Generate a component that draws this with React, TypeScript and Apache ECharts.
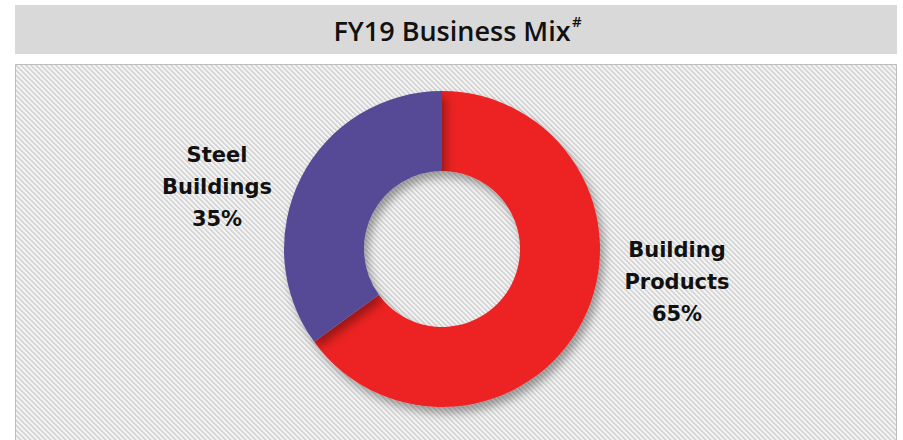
import React, { useEffect, useRef } from "react";
import * as echarts from "echarts";

const categories = ["Building Products", "Steel Buildings"];
const values = [65, 35];
const colors = ["#ed2224", "#574a96"];
const labelLines = [
  ["Building", "Products", "65%"],
  ["Steel", "Buildings", "35%"],
];
const titleText = "FY19 Business Mix";

function makeStripe(): HTMLCanvasElement {
  const c = document.createElement("canvas");
  c.width = 5;
  c.height = 5;
  const ctx = c.getContext("2d")!;
  ctx.fillStyle = "#f5f5f5";
  ctx.fillRect(0, 0, 5, 5);
  ctx.fillStyle = "#d6d6d6";
  for (let i = 0; i < 5; i++) {
    ctx.fillRect(i, i, 1, 1);
    ctx.fillRect((i + 1) % 5, i, 1, 1);
  }
  ctx.fillStyle = "#e4e4e4";
  for (let i = 0; i < 5; i++) {
    ctx.fillRect((i + 2) % 5, i, 1, 1);
  }
  return c;
}

export default function App() {
  const ref = useRef<HTMLDivElement>(null);
  useEffect(() => {
    if (!ref.current) return;
    const chart = echarts.init(ref.current, undefined, { renderer: "svg" });
    const stripe = makeStripe();
    const stripeUrl = stripe.toDataURL();
    const labelFont = '"DejaVu Sans", sans-serif';
    chart.setOption({
      animation: false,
      backgroundColor: "#ffffff",
      graphic: [
        {
          type: "rect",
          z: -10,
          shape: { x: 15, y: 5, width: 882, height: 49 },
          style: { fill: "#d9d9d9" },
          silent: true,
        },
        {
          type: "rect",
          z: -10,
          shape: { x: 15.5, y: 64.5, width: 881, height: 400 },
          style: {
            fill: { image: stripeUrl, repeat: "repeat" } as any,
            stroke: "#bdbdbd",
            lineWidth: 1,
          },
          silent: true,
        },
        {
          type: "text",
          x: 452,
          y: 30,
          style: {
            text: titleText,
            font: '600 27px "Open Sans", sans-serif',
            fill: "#111111",
            align: "center",
            verticalAlign: "middle",
          },
        },
        {
          type: "text",
          x: 572,
          y: 21,
          style: {
            text: "#",
            font: '600 15px "Open Sans", sans-serif',
            fill: "#111111",
            align: "left",
            verticalAlign: "middle",
          },
        },
        {
          type: "text",
          x: 677,
          y: 282,
          z: 10,
          style: {
            text: labelLines[0].join("\n"),
            font: `bold 21px ${labelFont}`,
            lineHeight: 32,
            fill: "#111111",
            align: "center",
            verticalAlign: "middle",
          },
        },
        {
          type: "text",
          x: 217,
          y: 187,
          z: 10,
          style: {
            text: labelLines[1].join("\n"),
            font: `bold 21px ${labelFont}`,
            lineHeight: 32,
            fill: "#111111",
            align: "center",
            verticalAlign: "middle",
          },
        },
      ],
      series: [
        {
          type: "pie",
          center: [442, 249],
          radius: [78, 158],
          startAngle: 90,
          clockwise: true,
          silent: true,
          label: { show: false },
          labelLine: { show: false },
          itemStyle: {
            shadowBlur: 10,
            shadowOffsetX: 4,
            shadowOffsetY: 6,
            shadowColor: "rgba(0,0,0,0.35)",
          },
          data: categories.map((name, i) => ({
            name,
            value: values[i],
            itemStyle: { color: colors[i] },
          })),
        },
      ],
    });
    return () => chart.dispose();
  }, []);
  return <div ref={ref} style={{ width: 903, height: 440, position: "absolute", left: 0, top: 0 }} />;
}
